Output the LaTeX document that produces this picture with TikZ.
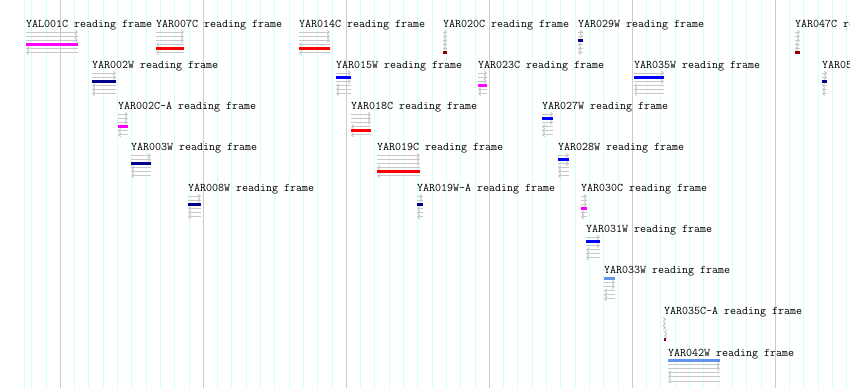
\documentclass[tikz,border=0pt]{standalone}
\usepackage{tikz}
\usetikzlibrary{arrows.meta}

\definecolor{gridcyan}{HTML}{D4FFFF}
\definecolor{gridgray}{HTML}{CCCCCC}
\definecolor{framegray}{HTML}{C8C8C8}
\definecolor{orfmagenta}{HTML}{FF00FF}
\definecolor{orfred}{HTML}{FF0000}
\definecolor{orfnavy}{HTML}{00008B}
\definecolor{orfblue}{HTML}{0000FF}
\definecolor{orfdarkred}{HTML}{8B0000}
\definecolor{orfcorn}{HTML}{6495ED}

\tikzset{
  orflabel/.style={anchor=base west, inner sep=0pt, font=\ttfamily\fontsize{11.65}{12}\selectfont},
  frameline/.style={draw=framegray, line width=1pt},
  orfbar/.style={line width=3pt},
  fwdtip/.style={-{Straight Barb[length=2pt,width=4pt]}},
  revtip/.style={{Straight Barb[length=2pt,width=4pt]}-},
}

% #1 name, #2 start, #3 end, #4 level, #5 coloured frame, #6 colour
\newcommand{\readframe}[6]{%
  \pgfmathsetmacro{\ly}{27.7+41.04*#4}
  \node[orflabel] (#1) at (#2,\ly) {#1 reading frame};
  \foreach \fr in {1,...,6}{%
    \pgfmathsetmacro{\fy}{\ly+4.5+4.1*(\fr-1)}
    \ifnum\fr=#5\relax
      \draw[orfbar,#6] (#2,\fy) -- (#3,\fy);
    \else\ifnum\fr<4\relax
      \draw[frameline,fwdtip] (#2,\fy) -- (#3,\fy);
    \else
      \draw[frameline,revtip] (#2,\fy) -- (#3,\fy);
    \fi\fi
  }%
}

\begin{document}
\begin{tikzpicture}[x=1pt,y=-1pt]
        \useasboundingbox (0,0) rectangle (850,388);
        \clip (0,0) rectangle (850,388);

        % the grid
        \draw[gridcyan, line width=1pt] (24.3,0) -- (24.3,388);
        \foreach \i in {-2,...,55}
            \draw[gridcyan, line width=1pt] ({60.3+14.3*\i},0) -- ({60.3+14.3*\i},388);
        \foreach \i in {0,...,5}
            \draw[gridgray, line width=1.3pt] ({60.3+143*\i},0) -- ({60.3+143*\i},388);

        % level 0
        \readframe{YAL001C}{26}{78}{0}{4}{orfmagenta}
        \readframe{YAR007C}{156}{184}{0}{5}{orfred}
        \readframe{YAR014C}{299}{330}{0}{5}{orfred}
        \readframe{YAR020C}{443}{447}{0}{6}{orfdarkred}
        \readframe{YAR029W}{578}{583}{0}{3}{orfnavy}
        \readframe{YAR047C}{795}{800}{0}{6}{orfdarkred}

        % level 1
        \readframe{YAR002W}{92}{116}{1}{3}{orfnavy}
        \readframe{YAR015W}{336}{351}{1}{2}{orfblue}
        \readframe{YAR023C}{478}{487}{1}{4}{orfmagenta}
        \readframe{YAR035W}{634}{664}{1}{2}{orfblue}
        \readframe{YAR05}{822}{827}{1}{3}{orfnavy}

        % level 2
        \readframe{YAR002C-A}{118}{128}{2}{4}{orfmagenta}
        \readframe{YAR018C}{351}{371}{2}{5}{orfred}
        \readframe{YAR027W}{542}{553}{2}{2}{orfblue}

        % level 3
        \readframe{YAR003W}{131}{151}{3}{3}{orfnavy}
        \readframe{YAR019C}{377}{420}{3}{5}{orfred}
        \readframe{YAR028W}{558}{569}{3}{2}{orfblue}

        % level 4
        \readframe{YAR008W}{188}{201}{4}{3}{orfnavy}
        \readframe{YAR019W-A}{417}{423}{4}{3}{orfnavy}
        \readframe{YAR030C}{581}{587}{4}{4}{orfmagenta}

        % levels 5 to 8
        \readframe{YAR031W}{586}{600}{5}{2}{orfblue}
        \readframe{YAR033W}{604}{615}{6}{1}{orfcorn}
        \readframe{YAR035C-A}{664}{666}{7}{6}{orfdarkred}
        \readframe{YAR042W}{668}{720}{8}{1}{orfcorn}
    \end{tikzpicture}
\end{document}
